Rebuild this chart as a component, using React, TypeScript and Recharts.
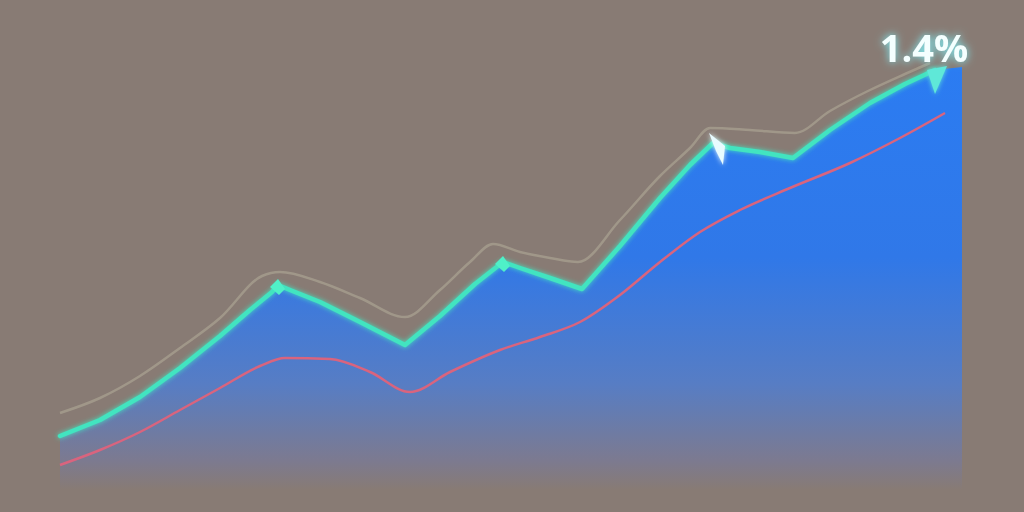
import React from "react";
import { ComposedChart, Area, Line, XAxis, YAxis, LabelList } from "recharts";

// x positions (horizontal units) and values (vertical units, baseline 0)
const tealX = [60, 100, 140, 180, 220, 250, 272, 278, 290, 320, 360, 405, 440, 475, 503, 520, 550, 582, 620, 660, 690, 713, 730, 760, 793, 830, 870, 905, 935, 962];
const tealV = [54, 70, 93, 122, 154, 180, 198, 205, 200, 188, 168, 145, 174, 206, 228, 222, 212, 201, 244, 292, 325, 347, 342, 338, 332, 360, 387, 406, 420, 423];

const grayX = [60, 100, 140, 180, 220, 262, 280, 320, 360, 405, 440, 470, 493, 520, 550, 578, 620, 660, 690, 710, 750, 795, 830, 870, 905, 930];
const grayV = [77, 92, 114, 142, 172, 214, 218, 208, 192, 173, 200, 228, 246, 238, 232, 228, 270, 314, 342, 362, 360, 357, 379, 400, 416, 427];

const pinkX = [60, 100, 140, 180, 220, 260, 285, 330, 370, 410, 450, 500, 540, 580, 620, 660, 700, 740, 790, 850, 900, 945];
const pinkV = [25, 40, 58, 80, 102, 124, 132, 131, 118, 98, 118, 140, 153, 168, 195, 228, 258, 280, 302, 327, 352, 377];

const markerX = [278, 503, 713, 935];
const labelText = "1.4%";

const teal = tealX.map((x, i) => ({ x, v: tealV[i] }));
const gray = grayX.map((x, i) => ({ x, v: grayV[i] }));
const pink = pinkX.map((x, i) => ({ x, v: pinkV[i] }));

const BG = "#887b74";

const MarkerDot = (props: any) => {
  const { cx, cy, payload, index } = props;
  if (!payload || !markerX.includes(payload.x)) return <g key={`d${index}`} />;
  const k = markerX.indexOf(payload.x);
  if (k === 0 || k === 1) {
    return (
      <polygon
        key={`d${index}`}
        points={`${cx - 8},${cy + 2} ${cx},${cy - 6} ${cx + 7},${cy + 4} ${cx + 1},${cy + 10}`}
        fill="#4ff0c8"
      />
    );
  }
  if (k === 2) {
    return (
      <polygon
        key={`d${index}`}
        points={`${cx - 4},${cy - 10} ${cx + 12},${cy + 3} ${cx + 10},${cy + 22} ${cx + 3},${cy + 8}`}
        fill="#e8fbff"
        filter="url(#glow)"
      />
    );
  }
  return (
    <polygon
      key={`d${index}`}
      points={`${cx - 8},${cy} ${cx + 12},${cy - 4} ${cx},${cy + 24}`}
      fill="#5fe8d8"
      filter="url(#glow)"
    />
  );
};

const TopLabel = (props: any) => {
  const { x, y, index } = props;
  if (index !== tealX.indexOf(935)) return null;
  return (
    <text
      x={x - 11}
      y={y - 8}
      textAnchor="middle"
      fill="#f4ffff"
      fontSize={38}
      fontWeight={700}
      fontFamily="'Open Sans', 'DejaVu Sans', sans-serif"
      filter="url(#textglow)"
    >
      {labelText}
    </text>
  );
};

export default function App() {
  return (
    <div style={{ position: "fixed", left: 0, top: 0, width: 1024, height: 512, background: BG }}>
      <ComposedChart width={1024} height={512} margin={{ top: 0, right: 0, bottom: 22, left: 0 }}>
        <defs>
          <linearGradient id="areaFill" x1="0" y1="0" x2="0" y2="1">
            <stop offset="0" stopColor="#2b7cf2" />
            <stop offset="0.45" stopColor="#3078e8" />
            <stop offset="0.75" stopColor="#577dc4" />
            <stop offset="0.93" stopColor="#7c7a90" />
            <stop offset="1" stopColor={BG} />
          </linearGradient>
          <filter id="glow" x="-50%" y="-50%" width="200%" height="200%">
            <feGaussianBlur stdDeviation="2.5" result="b" />
            <feMerge>
              <feMergeNode in="b" />
              <feMergeNode in="SourceGraphic" />
            </feMerge>
          </filter>
          <filter id="textglow" x="-30%" y="-50%" width="160%" height="200%">
            <feGaussianBlur stdDeviation="4" result="b" />
            <feFlood floodColor="#7ff6ff" result="c" />
            <feComposite in="c" in2="b" operator="in" result="g" />
            <feMerge>
              <feMergeNode in="g" />
              <feMergeNode in="SourceGraphic" />
            </feMerge>
          </filter>
        </defs>
        <XAxis type="number" dataKey="x" domain={[0, 1024]} hide allowDuplicatedCategory={false} />
        <YAxis type="number" domain={[0, 490]} hide />
        <Line
          data={gray}
          dataKey="v"
          type="monotone"
          stroke="#a8a090"
          strokeOpacity={0.75}
          strokeWidth={2.5}
          dot={false}
          activeDot={false}
          isAnimationActive={false}
        />
        <Area
          data={teal}
          dataKey="v"
          type="linear"
          fill="url(#areaFill)"
          fillOpacity={1}
          stroke="none"
          baseValue={0}
          dot={false}
          activeDot={false}
          isAnimationActive={false}
        />
        <Line
          data={pink}
          dataKey="v"
          type="monotone"
          stroke="#d9647e"
          strokeWidth={2.5}
          dot={false}
          activeDot={false}
          isAnimationActive={false}
        />
        <Line
          data={teal.filter((d) => d.x <= 945)}
          dataKey="v"
          type="linear"
          stroke="#42e4c0"
          strokeWidth={4.5}
          strokeLinejoin="round"
          strokeLinecap="round"
          filter="url(#glow)"
          dot={<MarkerDot />}
          activeDot={false}
          isAnimationActive={false}
        >
          <LabelList dataKey="v" content={<TopLabel />} />
        </Line>
      </ComposedChart>
    </div>
  );
}
